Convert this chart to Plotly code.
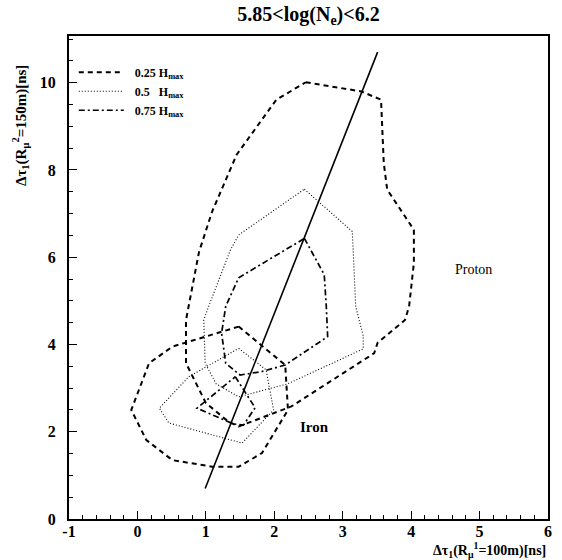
import plotly.graph_objects as go

# ---- data ----
proton_025_x = [2.46, 3.27, 3.56, 3.60, 3.65, 4.04, 4.04, 3.97, 3.91, 3.51, 3.46, 2.25, 1.48, 1.33, 1.00, 0.71, 0.71, 0.90, 1.09, 1.45, 2.03, 2.46]
proton_025_y = [10.01, 9.80, 9.61, 8.16, 7.55, 6.63, 5.87, 4.87, 4.56, 4.04, 3.80, 2.58, 2.12, 2.23, 2.66, 3.57, 4.56, 6.12, 7.04, 8.35, 9.61, 10.01]

proton_05_x = [2.44, 3.14, 3.19, 3.30, 3.30, 2.20, 1.48, 1.15, 0.99, 0.97, 1.04, 1.36, 1.48, 2.44]
proton_05_y = [7.56, 6.59, 4.87, 4.20, 3.90, 3.10, 2.80, 3.10, 3.57, 4.56, 4.87, 6.17, 6.51, 7.56]

proton_075_x = [2.44, 2.73, 2.76, 2.78, 2.16, 1.82, 1.50, 1.29, 1.23, 1.29, 1.48, 2.44]
proton_075_y = [6.43, 5.60, 4.87, 4.18, 3.53, 3.38, 3.30, 3.57, 4.26, 4.87, 5.53, 6.43]

iron_025_x = [1.48, 0.51, 0.17, -0.09, 0.13, 0.51, 1.09, 1.48, 1.82, 2.20, 2.16, 1.48]
iron_025_y = [4.41, 3.95, 3.57, 2.50, 1.81, 1.35, 1.20, 1.20, 1.51, 2.50, 3.53, 4.41]

iron_05_x = [1.48, 1.88, 1.99, 1.53, 0.46, 0.32, 0.75, 1.48]
iron_05_y = [3.91, 3.42, 2.50, 1.74, 2.20, 2.54, 3.26, 3.91]

iron_075_x = [1.43, 1.72, 1.55, 1.40, 0.87, 1.43]
iron_075_y = [3.26, 2.55, 2.15, 2.18, 2.54, 3.26]

cut_x = [0.99, 3.51]
cut_y = [0.70, 10.70]

legend_names = ["<b>&nbsp;&nbsp;0.25 H<sub>max</sub></b>",
                "<b>&nbsp;&nbsp;0.5&nbsp;&nbsp; H<sub>max</sub></b>",
                "<b>&nbsp;&nbsp;0.75 H<sub>max</sub></b>"]

x_tick_vals = [-1, 0, 1, 2, 3, 4, 5, 6]
x_tick_text = ["-1", "0", "1", "2", "3", "4", "5", "6"]
y_tick_vals = [0, 2, 4, 6, 8, 10]
y_tick_text = ["0", "2", "4", "6", "8", "10"]

FONT = "Liberation Serif"

styles = [
    dict(color="black", width=2.0, dash="5px,4px"),
    dict(color="black", width=1.1, dash="1px,2px"),
    dict(color="black", width=1.7, dash="6px,3px,2px,3px"),
]

fig = go.Figure()

proton = [(proton_025_x, proton_025_y), (proton_05_x, proton_05_y), (proton_075_x, proton_075_y)]
iron = [(iron_025_x, iron_025_y), (iron_05_x, iron_05_y), (iron_075_x, iron_075_y)]

for i, (xs, ys) in enumerate(proton):
    fig.add_trace(go.Scatter(x=xs, y=ys, mode="lines", line=styles[i], name=legend_names[i],
                             legendgroup=str(i), showlegend=True, hoverinfo="skip"))
for i, (xs, ys) in enumerate(iron):
    fig.add_trace(go.Scatter(x=xs, y=ys, mode="lines", line=styles[i], name=legend_names[i],
                             legendgroup=str(i), showlegend=False, hoverinfo="skip"))

fig.add_trace(go.Scatter(x=cut_x, y=cut_y, mode="lines", line=dict(color="black", width=1.6),
                         showlegend=False, hoverinfo="skip"))

fig.add_annotation(x=4.91, y=5.71, text="Proton", showarrow=False,
                   font=dict(family=FONT, size=14, color="black"))
fig.add_annotation(x=2.59, y=2.12, text="<b>Iron</b>", showarrow=False,
                   font=dict(family=FONT, size=15, color="black"))

# axis titles
fig.add_annotation(xref="paper", yref="paper", x=1.0, y=-0.064, xanchor="right", yanchor="middle",
                   text="<b>Δτ<sub>1</sub>(R<sub>μ</sub><sup>1</sup>=100m)[ns]</b>", showarrow=False,
                   font=dict(family=FONT, size=14, color="black"))
fig.add_annotation(xref="paper", yref="paper", x=-0.101, y=0.815, xanchor="center", yanchor="middle",
                   textangle=-90,
                   text="<b>Δτ<sub>1</sub>(R<sub>μ</sub><sup>2</sup>=150m)[ns]</b>", showarrow=False,
                   font=dict(family=FONT, size=15, color="black"))

axis_common = dict(showgrid=False, zeroline=False, showline=True, linecolor="black", linewidth=2,
                   mirror=True, ticks="inside", tickcolor="black", tickwidth=1, ticklen=8,
                   tickfont=dict(family=FONT, size=16, color="black"))

fig.update_xaxes(range=[-1, 6], tickvals=x_tick_vals, ticktext=["<b>%s</b>" % t for t in x_tick_text],
                 minor=dict(dtick=0.2, ticks="inside", ticklen=4, tickcolor="black"),
                 ticklabelstandoff=-3, **axis_common)
fig.update_yaxes(range=[0, 11.07], tickvals=y_tick_vals, ticktext=["<b>%s</b>" % t for t in y_tick_text],
                 minor=dict(dtick=0.5, ticks="inside", ticklen=4, tickcolor="black"),
                 ticklabelstandoff=8, **axis_common)

fig.update_layout(
    width=562, height=560,
    margin=dict(l=69, r=10, t=36, b=41),
    paper_bgcolor="white", plot_bgcolor="white",
    title=dict(text="<b>5.85&lt;log(N<sub>e</sub>)&lt;6.2</b>", x=0.5, xref="paper",
               y=1 - 14 / 560, yref="container", xanchor="center", yanchor="middle",
               font=dict(family=FONT, size=20, color="black")),
    legend=dict(x=0.01, y=0.955, xanchor="left", yanchor="top", bgcolor="rgba(0,0,0,0)",
                font=dict(family=FONT, size=12, color="black"), itemwidth=45,
                tracegroupgap=0),
    showlegend=True,
)

fig.write_html("out.html")
